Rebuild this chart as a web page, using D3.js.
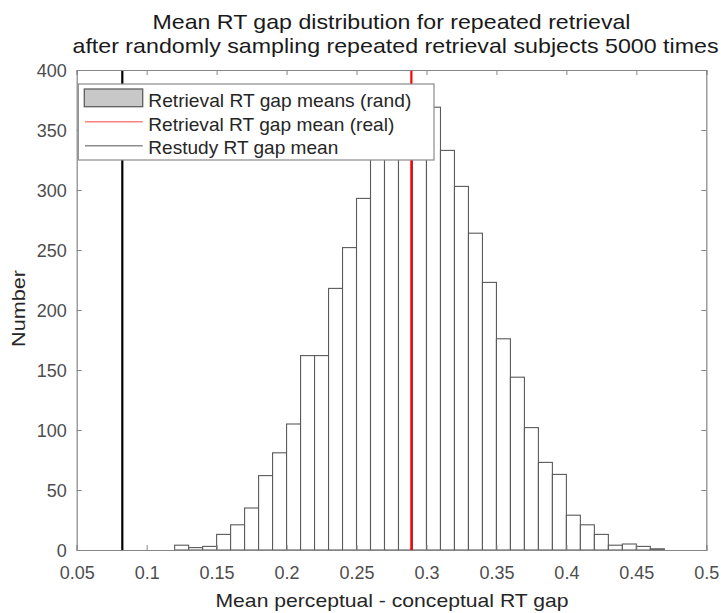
<!DOCTYPE html>
<html><head><meta charset="utf-8">
<script src="https://cdn.jsdelivr.net/npm/d3@7"></script>
<style>body{margin:0;background:#fff;} text{font-family:"Liberation Sans",Arial,sans-serif;}</style>
</head><body>
<svg id="c" width="721" height="613"></svg>
<script>
// histogram bin edges (start of each 0.01-wide bin) and counts
const binStarts = [0.12,0.13,0.14,0.15,0.16,0.17,0.18,0.19,0.20,0.21,0.22,0.23,0.24,0.25,0.26,0.27,0.28,0.29,0.30,0.31,0.32,0.33,0.34,0.35,0.36,0.37,0.38,0.39,0.40,0.41,0.42,0.43,0.44,0.45,0.46];
const counts    = [4,2,3,13,21,35,62,81,105,162,162,218,252,293,338,368,382,373,369,333,303,264,223,176,144,102,73,63,29,21,13,4,5,3,1];
const binWidth = 0.01;
const realMean = 0.2892;     // Retrieval RT gap mean (real)
const restudyMean = 0.0826;  // Restudy RT gap mean
const xTicks = [0.05,0.1,0.15,0.2,0.25,0.3,0.35,0.4,0.45,0.5];
const yTicks = [0,50,100,150,200,250,300,350,400];
const titleLines = ["Mean RT gap distribution for repeated retrieval","after randomly sampling repeated retrieval subjects 5000 times"];
const legendLabels = ["Retrieval RT gap means (rand)","Retrieval RT gap mean (real)","Restudy RT gap mean"];

const svg = d3.select("#c");
const L=76.7, R=706.3, T=70, B=550;
const x = d3.scaleLinear().domain([0.05,0.5]).range([L,R]);
const y = d3.scaleLinear().domain([0,400]).range([B,T]);
const axisCol = "#868686", labCol = "#4d4d4d";

// bars
svg.append("g").selectAll("rect").data(binStarts).join("rect")
  .attr("x", d=>x(d)).attr("width", d=>x(d+binWidth)-x(d))
  .attr("y", (d,i)=>y(counts[i])).attr("height", (d,i)=>y(0)-y(counts[i]))
  .attr("fill","#fff").attr("stroke","#5a5a5a").attr("stroke-width",1.1);

// vertical lines
svg.append("line").attr("x1",x(realMean)).attr("x2",x(realMean)).attr("y1",T).attr("y2",B)
  .attr("stroke","#ff0000").attr("stroke-width",2.2);
svg.append("line").attr("x1",x(restudyMean)).attr("x2",x(restudyMean)).attr("y1",T).attr("y2",B)
  .attr("stroke","#000").attr("stroke-width",2.2);

// axes (MATLAB style: ticks inside, box)
const tl = 5;
const gx = svg.append("g").attr("transform",`translate(0,${B})`)
  .call(d3.axisBottom(x).tickValues(xTicks).tickSize(-tl).tickFormat(d3.format("~g")));
gx.selectAll(".tick text").attr("y",29).attr("dy","0");
const gxt = svg.append("g").attr("transform",`translate(0,${T})`)
  .call(d3.axisTop(x).tickValues(xTicks).tickSize(-tl).tickFormat(""));
const gy = svg.append("g").attr("transform",`translate(${L},0)`)
  .call(d3.axisLeft(y).tickValues(yTicks).tickSize(-tl).tickPadding(10));
gy.selectAll(".tick text").attr("dy","0.36em");
const gyr = svg.append("g").attr("transform",`translate(${R},0)`)
  .call(d3.axisRight(y).tickValues(yTicks).tickSize(-tl).tickFormat(""));
[gx,gxt,gy,gyr].forEach(g=>{
  g.select(".domain").attr("stroke",axisCol).attr("stroke-width",1.2);
  g.selectAll(".tick line").attr("stroke",axisCol);
  g.selectAll(".tick text").attr("fill",labCol).style("font-size","18px").style("font-family","Liberation Sans, Arial, sans-serif");
});

// legend
const lg = svg.append("g");
lg.append("rect").attr("x",78.3).attr("y",84).attr("width",355.7).attr("height",76)
  .attr("fill","#fff").attr("stroke","#8a8a8a").attr("stroke-width",1.2);
lg.append("rect").attr("x",84.3).attr("y",89).attr("width",58.4).attr("height",17.7)
  .attr("fill","#c8c8c8").attr("stroke","#5f5f5f").attr("stroke-width",1.3);
lg.append("line").attr("x1",85).attr("x2",142.7).attr("y1",121.7).attr("y2",121.7).attr("stroke","#ff8080").attr("stroke-width",1.5);
lg.append("line").attr("x1",85).attr("x2",142.7).attr("y1",145.7).attr("y2",145.7).attr("stroke","#8c8c8c").attr("stroke-width",1.5);
const legW = [263, 246, 190];
lg.selectAll("text").data(legendLabels).join("text")
  .attr("x",148.3).attr("y",(d,i)=>[106.5,130.5,154.3][i])
  .attr("textLength",(d,i)=>legW[i]).attr("lengthAdjust","spacingAndGlyphs")
  .attr("fill","#262626").style("font-size","19px").text(d=>d);

// title
const titW = [478, 646];
svg.append("g").selectAll("text").data(titleLines).join("text")
  .attr("x",(d,i)=>(L+R)/2 - titW[i]/2 + (i===1?4:0)).attr("y",(d,i)=>[29,53][i])
  .attr("textLength",(d,i)=>titW[i]).attr("lengthAdjust","spacingAndGlyphs")
  .attr("fill","#1a1a1a").style("font-size","21px").text(d=>d);

// axis labels
svg.append("text").attr("x",(L+R)/2 - 176).attr("y",607)
  .attr("textLength",353).attr("lengthAdjust","spacingAndGlyphs")
  .attr("fill","#262626").style("font-size","19px").text("Mean perceptual - conceptual RT gap");
svg.append("text").attr("transform","translate(25,347) rotate(-90)")
  .attr("textLength",77).attr("lengthAdjust","spacingAndGlyphs")
  .attr("fill","#262626").style("font-size","19px").text("Number");
</script>
</body></html>
